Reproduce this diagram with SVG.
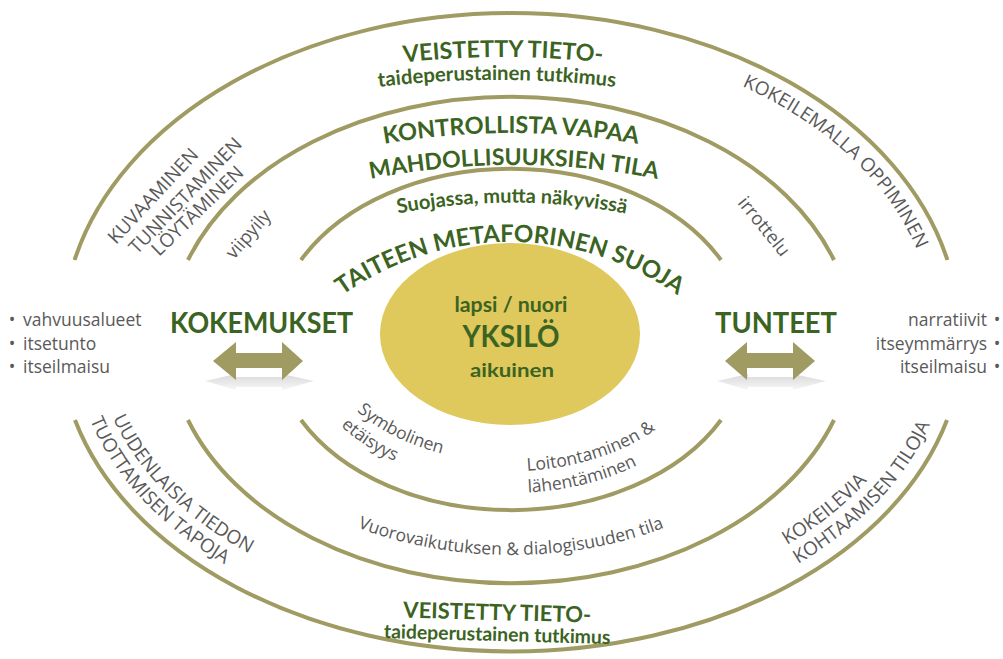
<svg xmlns="http://www.w3.org/2000/svg" width="1003" height="659" viewBox="0 0 1003 659">
<style>
.ring{fill:none;stroke:#a09b63;stroke-width:4}
.g{fill:#3b6322;font-family:Lato,"Open Sans",sans-serif;font-weight:700}
.t{fill:#595959;font-family:"Open Sans","Liberation Sans",sans-serif}
.cap{font-size:19px}
.low{font-size:17.5px}
.arrow{fill:#a09b63}
</style>
<defs>
<linearGradient id="refl" x1="0" y1="0" x2="0" y2="1">
<stop offset="0" stop-color="#d9d9d9"/>
<stop offset="1" stop-color="#f7f7f7"/>
</linearGradient>
<path id="p1" d="M 203,108.5 A 900 900 0 0 1 803,108.5"/>
<path id="p2" d="M 197,126 A 1000 1000 0 0 1 797,126"/>
<path id="p3" d="M 211,195.6 A 750 750 0 0 1 811,195.6"/>
<path id="p4" d="M 214,227.6 A 750 750 0 0 1 814,227.6"/>
<path id="p5" d="M 212,283 A 600 600 0 0 1 812,283"/>
<path id="p6" d="M 220,532 A 290 290 0 0 1 800,532"/>
<path id="pKO" d="M 742,86 A 423 294 0 0 1 934,332"/>
<path id="pTU" d="M 90.2,420 A 437 297 0 0 0 511,637"/>
<path id="pUU" d="M 113,418 A 415 275 0 0 0 511,615"/>
<path id="pKH" d="M 798,564 A 437 297 0 0 0 948,340"/>
<path id="pKK" d="M 787,545 A 415 275 0 0 0 926,340"/>
<path id="pSy" d="M 357,411 A 190 122 0 0 0 511,462"/>
<path id="pEt" d="M 341,426 A 211 145 0 0 0 511,485"/>
<path id="pLo" d="M 527,470.6 A 198 131 0 0 0 709,340"/>
<path id="pLa" d="M 528,492.5 A 220 153 0 0 0 731,340"/>
<path id="pVu" d="M 197,340 A 314 215 0 0 0 825,340"/>
</defs>
<rect width="1003" height="659" fill="#ffffff"/>
<g id="rings">
<path class="ring" d="M 74.6,260 A 448 319 0 0 1 947.4,260"/>
<path class="ring" d="M 75,420 A 451 311 0 0 0 947,420"/>
<path class="ring" d="M 188,260 A 342 243 0 0 1 834,260"/>
<path class="ring" d="M 188,420 A 342 243 0 0 0 834,420"/>
<path class="ring" d="M 301,260 A 237 170 0 0 1 721,260"/>
<path class="ring" d="M 301,420 A 237 168 0 0 0 721,420"/>
</g>
<g id="center">
<ellipse cx="510" cy="334" rx="130" ry="91" fill="#dfc85c"/>
<text class="g" x="511" y="312" font-size="20" text-anchor="middle" font-weight="400" textLength="113" lengthAdjust="spacingAndGlyphs">lapsi / nuori</text>
<text class="g" x="511" y="347" font-size="30" text-anchor="middle" textLength="97" lengthAdjust="spacingAndGlyphs">YKSILÖ</text>
<text class="g" x="512" y="377" font-size="19" text-anchor="middle" font-weight="400" textLength="84" lengthAdjust="spacingAndGlyphs">aikuinen</text>
</g>
<g id="outer-top">
<text class="g" font-size="23.3"><textPath href="#p1" startOffset="50%" text-anchor="middle">VEISTETTY TIETO-</textPath></text>
<text class="g" font-size="20.3"><textPath href="#p2" startOffset="50%" text-anchor="middle">taideperustainen tutkimus</textPath></text>
</g>
<g id="middle-top">
<text class="g" font-size="23.5"><textPath href="#p3" startOffset="50%" text-anchor="middle">KONTROLLISTA VAPAA</textPath></text>
<text class="g" font-size="23"><textPath href="#p4" startOffset="50%" text-anchor="middle">MAHDOLLISUUKSIEN TILA</textPath></text>
</g>
<g id="inner-top">
<text class="g" font-size="20"><textPath href="#p5" startOffset="50%" text-anchor="middle">Suojassa, mutta näkyvissä</textPath></text>
<text class="g" font-size="24"><textPath href="#p6" startOffset="50%" text-anchor="middle">TAITEEN METAFORINEN SUOJA</textPath></text>
</g>
<g id="outer-left">
<text class="t cap" transform="translate(116,245) rotate(-47)">KUVAAMINEN</text>
<text class="t cap" transform="translate(137,255) rotate(-46)">TUNNISTAMINEN</text>
<text class="t cap" transform="translate(159,257) rotate(-44)">LÖYTÄMINEN</text>
</g>
<g id="middle-left">
<text class="t" font-size="18.5" transform="translate(234,260) rotate(-49)">viipyily</text>
</g>
<g id="outer-right">
<text class="t cap"><textPath href="#pKO">KOKEILEMALLA OPPIMINEN</textPath></text>
</g>
<g id="middle-right">
<text class="t" font-size="18.5" transform="translate(737,203) rotate(51)">irrottelu</text>
</g>
<g id="kokemukset">
<text class="g" x="170" y="333" font-size="29" textLength="183" lengthAdjust="spacingAndGlyphs">KOKEMUKSET</text>
<text class="t low" x="12" y="326" text-anchor="middle">•</text>
<text class="t low" x="23" y="326">vahvuusalueet</text>
<text class="t low" x="12" y="350" text-anchor="middle">•</text>
<text class="t low" x="23" y="350">itsetunto</text>
<text class="t low" x="12" y="373" text-anchor="middle">•</text>
<text class="t low" x="23" y="373">itseilmaisu</text>
</g>
<g id="tunteet">
<text class="g" x="715" y="333" font-size="29" textLength="122" lengthAdjust="spacingAndGlyphs">TUNTEET</text>
<text class="t low" x="987" y="326" text-anchor="end">narratiivit</text>
<text class="t low" x="997" y="326" text-anchor="middle">•</text>
<text class="t low" x="987" y="350" text-anchor="end">itseymmärrys</text>
<text class="t low" x="997" y="350" text-anchor="middle">•</text>
<text class="t low" x="987" y="373" text-anchor="end">itseilmaisu</text>
<text class="t low" x="997" y="373" text-anchor="middle">•</text>
</g>
<g id="inner-bottom">
<text class="t low"><textPath href="#pSy">Symbolinen</textPath></text>
<text class="t low"><textPath href="#pEt">etäisyys</textPath></text>
<text class="t low"><textPath href="#pLo">Loitontaminen &amp;</textPath></text>
<text class="t low"><textPath href="#pLa">lähentäminen</textPath></text>
</g>
<g id="middle-bottom">
<text class="t low"><textPath href="#pVu" startOffset="50%" text-anchor="middle">Vuorovaikutuksen &amp; dialogisuuden tila</textPath></text>
</g>
<g id="outer-bottom-left">
<text class="t cap"><textPath href="#pUU">UUDENLAISIA TIEDON</textPath></text>
<text class="t cap"><textPath href="#pTU">TUOTTAMISEN TAPOJA</textPath></text>
</g>
<g id="outer-bottom-right">
<text class="t cap"><textPath href="#pKK">KOKEILEVIA</textPath></text>
<text class="t cap"><textPath href="#pKH">KOHTAAMISEN TILOJA</textPath></text>
</g>
<g id="outer-bottom">
<text class="g" x="497" y="620" font-size="22" text-anchor="middle" transform="rotate(1.5 497 620)">VEISTETTY TIETO-</text>
<text class="g" x="497" y="641" font-size="19.4" text-anchor="middle" transform="rotate(1.5 497 641)">taideperustainen tutkimus</text>
</g>
<g id="connectors">
<polygon fill="url(#refl)" points="205,381 236,374 236,377 282,377 282,374 314,381 282,390 282,387 236,387 236,390"/>
<polygon fill="url(#refl)" points="717,381 748,374 748,377 793,377 793,374 826,381 793,390 793,387 748,387 748,390"/>
<polygon class="arrow" points="213,361 236,342 236,353 282,353 282,342 303,361 282,380 282,368 236,368 236,380"/>
<polygon class="arrow" points="725,361 747,342 747,353 793,353 793,342 815,361 793,380 793,368 747,368 747,380"/>
</g>
</svg>
